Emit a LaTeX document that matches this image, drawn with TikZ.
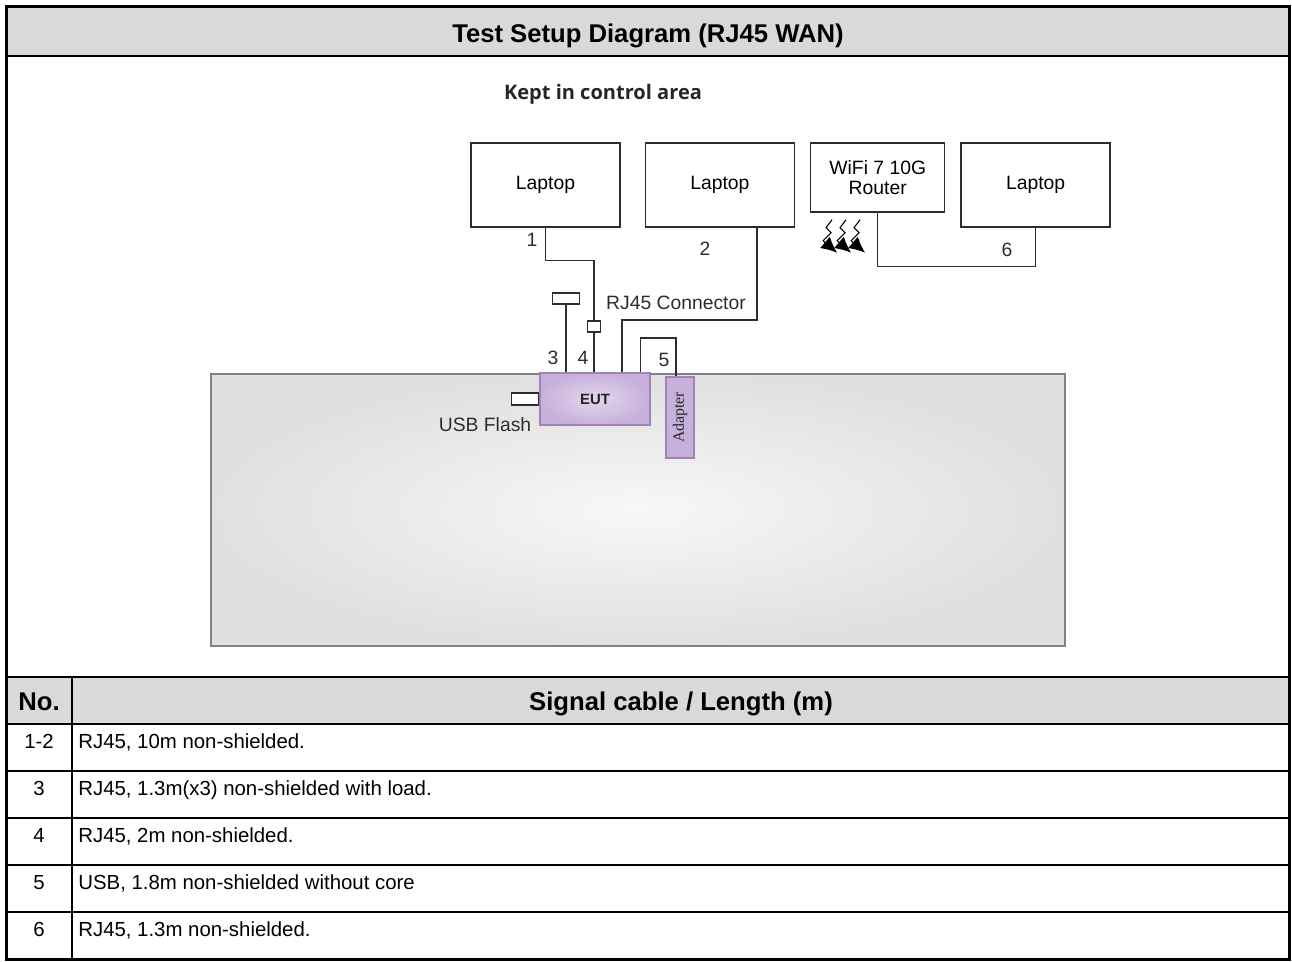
\documentclass[tikz,border=0pt]{standalone}
\usepackage{fontspec}
\setmainfont{Liberation Sans}
\newfontfamily\keptfont{Open Sans}
\newfontfamily\adpfont{Liberation Serif}
\usepackage{tikz}
\usetikzlibrary{positioning, arrows.meta}
\definecolor{headgrey}{RGB}{217,217,217}
\definecolor{eutfill}{RGB}{200,176,220}
\definecolor{eutlight}{RGB}{226,214,236}
\definecolor{eutedge}{RGB}{160,130,185}
\definecolor{benchedge}{RGB}{130,130,130}
\definecolor{benchgrey}{RGB}{224,224,224}
\definecolor{wire}{RGB}{45,45,45}

\begin{document}
\begin{tikzpicture}[
    x=0.02cm, y=-0.02cm,
    box/.style={rectangle, draw=wire, line width=0.8pt, minimum width=2.98cm, minimum height=1.68cm, inner sep=0pt, align=center, font=\fontsize{11}{11}\selectfont},
    plug/.style={rectangle, draw=wire, line width=0.8pt, fill=white, inner sep=0pt},
    lbl/.style={inner sep=0pt, text=wire, font=\fontsize{11}{13}\selectfont},
    cable/.style={draw=wire, line width=0.8pt},
    bolt/.style={draw=black, line width=0.6pt, -{Latex[length=9pt,width=8.5pt]}},
    rule/.style={line width=1.1pt},
    headtxt/.style={inner sep=0pt, anchor=base, font=\fontsize{14.6}{16}\selectfont\bfseries},
    celltxt/.style={inner sep=0pt, anchor=base, font=\fontsize{11.6}{14}\selectfont}
]
    \useasboundingbox (0,0) rectangle (1292,961);

    % table frame
    \fill[headgrey] (6.5,6.5) rectangle (1289.5,56);
    \fill[headgrey] (6.5,677) rectangle (1289.5,724);
    \foreach \y in {56,677,724,771,818,865,912}
        \draw[rule] (6.5,\y) -- (1289.5,\y);
    \draw[rule] (72,677) -- (72,959.5);
    \draw[line width=1.8pt] (6.5,6.5) rectangle (1289.5,959.5);

    \node[headtxt] (title) at (648,42) {Test Setup Diagram (RJ45 WAN)};
    \node[headtxt] (nohead) at (39,710) {No.};
    \node[headtxt] (cablehead) at (681,710) {Signal cable / Length (m)};

    \foreach \no/\txt [count=\i] in {1-2/{RJ45, 10m non-shielded.}, 3/{RJ45, 1.3m(x3) non-shielded with load.}, 4/{RJ45, 2m non-shielded.}, 5/{USB, 1.8m non-shielded without core}, 6/{RJ45, 1.3m non-shielded.}} {
        \node[celltxt] (no\i) at (39,{748+47*(\i-1)}) {\no};
        \node[celltxt, anchor=base west] (cab\i) at (78,{748+47*(\i-1)}) {\txt};
    }

    % setup
    \node[inner sep=0pt, font=\keptfont\bfseries\fontsize{11.4}{13}\selectfont, text=black!85] (kept) at (603,94) {Kept in control area};

    \node[rectangle, draw=benchedge, line width=0.9pt, minimum width=17.08cm, minimum height=5.44cm, inner sep=0pt, shading=radial, inner color=white!97!black, outer color=benchgrey] (bench) at (638,510) {};

    \node[box] (lapA) at (545.5,185) {Laptop};
    \node[box, right=0.48cm of lapA] (lapB) {Laptop};
    \node[box, minimum width=2.68cm, minimum height=1.38cm, right=0.3cm of lapB.north east, anchor=north west] (router) {WiFi 7 10G\\Router};
    \node[box, right=0.3cm of router.north east, anchor=north west] (lapC) {Laptop};

    \node[rectangle, draw=eutedge, line width=0.8pt, minimum width=2.2cm, minimum height=1.04cm, inner sep=0pt, shading=radial, inner color=eutlight, outer color=eutfill, font=\bfseries\fontsize{8.5}{10}\selectfont, text=black!85] (eut) at (595,399) {EUT};
    \node[rectangle, rotate=90, draw=eutedge, line width=0.8pt, fill=eutfill, minimum width=1.62cm, minimum height=0.56cm, inner sep=0pt, font=\adpfont\fontsize{9}{9}\selectfont, text=black!85] (adp) at (680,417.5) {Adapter};

    \node[plug, minimum width=0.54cm, minimum height=0.24cm, left=0pt of eut] (usb) {};
    \node[lbl] (usblbl) at (485,425) {USB Flash};
    \node[plug, minimum width=0.54cm, minimum height=0.22cm] (load) at (566,298.5) {};
    \node[plug, minimum width=0.26cm, minimum height=0.22cm] (rj) at (594,326.5) {};
    \node[lbl] (rjlbl) at (676,303) {RJ45 Connector};

    \coordinate (bend2) at (622,320);
    \coordinate (bend5) at (676,338);

    % cables
    \draw[cable] (lapA.south) -- ++(0,33) -| (rj.north);
    \draw[cable] (rj.south) -- (rj.south |- eut.north);
    \draw[cable] (load.south) -- (load.south |- eut.north);
    \draw[cable] ([xshift=-0.76cm]lapB.south east) |- (bend2) -- (bend2 |- eut.north);
    \draw[cable] ([xshift=-0.2cm]eut.north east) |- (bend5) -- (bend5 |- adp.east);
    \draw[cable] (router.south) -- ++(0,54) -| (lapC.south);

    \foreach \k in {0,1,2}
        \draw[bolt] ([shift={(22+14*\k,7)}]router.south west) -- ++(-6,8) -- ++(5,5) -- ++(-8,8) -- ++(14,12);

    \node[lbl] (n1) at (532,240) {1};
    \node[lbl] (n2) at (705,249) {2};
    \node[lbl] (n3) at (553,358) {3};
    \node[lbl] (n4) at (583,358) {4};
    \node[lbl] (n5) at (664,360) {5};
    \node[lbl] (n6) at (1007,250) {6};
\end{tikzpicture}
\end{document}
